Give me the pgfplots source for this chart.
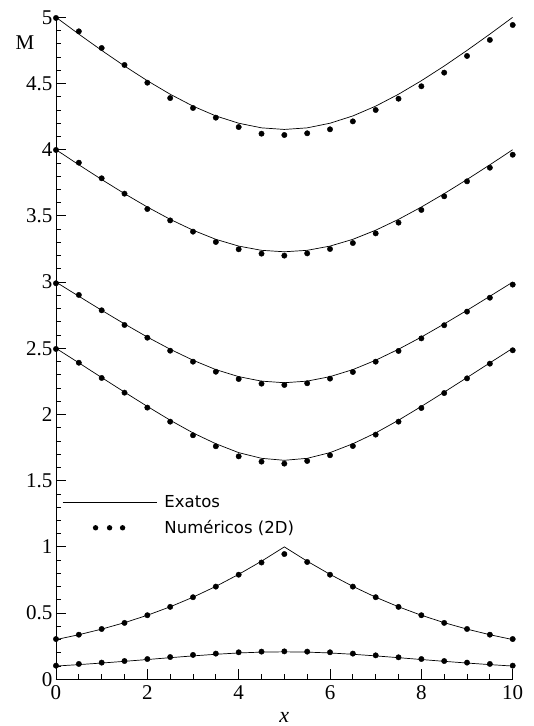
\documentclass[border=0pt]{standalone}
\usepackage{fontspec}
\setmainfont{Liberation Serif}
\newfontfamily\legfont{DejaVu Sans}
\usepackage{pgfplots}
\pgfplotsset{compat=1.18}
\begin{document}
\begin{tikzpicture}
\begin{axis}[
 at={(0pt,0pt)}, anchor=south west,
 scale only axis, width=456.7pt, height=662pt,
 xmin=0, xmax=10, ymin=0, ymax=5,
 axis x line*=bottom, axis y line*=left,
 axis line style={line width=0.8pt},
 xtick={0,2,4,6,8,10},
 ytick={0,0.5,1,1.5,2,2.5,3,3.5,4,4.5,5},
 minor x tick num=3, minor y tick num=4,
 tick align=inside,
 major tick length=10pt, minor tick length=5pt,
 every tick/.style={line width=0.8pt,black},
 tick label style={font=\fontsize{21}{22}\selectfont},
 yticklabel style={xshift=0pt},
 xticklabel style={yshift=-3pt},
 /pgf/number format/assume math mode=true,
 xlabel={x},
 xlabel style={at={(axis description cs:0.5,-0.057)}, anchor=center, font=\fontsize{22}{22}\selectfont\itshape},
 ylabel={M},
 ylabel style={rotate=-90, at={(axis description cs:-0.068,0.961)}, anchor=center, font=\fontsize{21}{21}\selectfont},
 legend style={at={(axis cs:0.131,1.237)}, anchor=west, draw=none, fill=none,
   font=\legfont\fontsize{16.5}{18}\selectfont, row sep=7pt, column sep=5.5pt, inner sep=0pt},
 legend cell align=left,
]
% Exact M0=0.1
\addplot[black, line width=0.7pt, no marks,
  legend image code/.code={\draw[line width=0.8pt] (0pt,0pt) -- (94pt,0pt);}]
 coordinates {(0,0.1) (0.5,0.1109) (1,0.1228) (1.5,0.1357) (2,0.1494) (2.5,0.1633) (3,0.1768) (3.5,0.1890) (4,0.1989) (4.5,0.2053) (5,0.2075) (5.5,0.2053) (6,0.1989) (6.5,0.1890) (7,0.1768) (7.5,0.1633) (8,0.1494) (8.5,0.1357) (9,0.1228) (9.5,0.1109) (10,0.1)};
\addlegendentry{Exatos}
% Numeric M0=0.1
\addplot[black, only marks, mark=*, mark size=2.7pt,
  legend image code/.code={\path[draw=none,fill=none] (0pt,-0.1pt) rectangle (94pt,0.1pt); \fill[black,draw=none] (33pt,0pt) circle (2.7pt); \fill[black,draw=none] (47pt,0pt) circle (2.7pt); \fill[black,draw=none] (60pt,0pt) circle (2.7pt);}]
 coordinates {(0,0.103) (0.5,0.116) (1,0.126) (1.5,0.138) (2,0.153) (2.5,0.168) (3,0.184) (3.5,0.194) (4,0.204) (4.5,0.209) (5,0.211) (5.5,0.209) (6,0.204) (6.5,0.194) (7,0.181) (7.5,0.166) (8,0.153) (8.5,0.138) (9,0.126) (9.5,0.116) (10,0.103)};
\addlegendentry{Numéricos (2D)}
% Exact M0=0.3
\addplot[black, line width=0.7pt, no marks, forget plot]
 coordinates {(0,0.3) (0.5,0.3367) (1,0.379) (1.5,0.4277) (2,0.4836) (2.5,0.5475) (3,0.62) (3.5,0.7017) (4,0.7926) (4.5,0.892) (5,1.0) (5.5,0.892) (6,0.7926) (6.5,0.7017) (7,0.62) (7.5,0.5475) (8,0.4836) (8.5,0.4277) (9,0.379) (9.5,0.3367) (10,0.3)};
\addplot[black, only marks, mark=*, mark size=2.7pt, forget plot]
 coordinates {(0,0.304) (0.5,0.337) (1,0.380) (1.5,0.426) (2,0.484) (2.5,0.547) (3,0.620) (3.5,0.700) (4,0.790) (4.5,0.882) (5,0.946) (5.5,0.886) (6,0.790) (6.5,0.700) (7,0.620) (7.5,0.547) (8,0.484) (8.5,0.426) (9,0.380) (9.5,0.337) (10,0.304)};
% Exact M0=2.5
\addplot[black, line width=0.7pt, no marks, forget plot]
 coordinates {(0,2.5) (0.5,2.39) (1,2.279) (1.5,2.169) (2,2.061) (2.5,1.957) (3,1.861) (3.5,1.779) (4,1.712) (4.5,1.669) (5,1.654) (5.5,1.669) (6,1.712) (6.5,1.779) (7,1.861) (7.5,1.957) (8,2.061) (8.5,2.169) (9,2.279) (9.5,2.39) (10,2.5)};
\addplot[black, only marks, mark=*, mark size=2.7pt, forget plot]
 coordinates {(0,2.495) (0.5,2.391) (1,2.276) (1.5,2.165) (2,2.052) (2.5,1.946) (3,1.843) (3.5,1.760) (4,1.684) (4.5,1.644) (5,1.629) (5.5,1.649) (6,1.692) (6.5,1.762) (7,1.848) (7.5,1.946) (8,2.049) (8.5,2.162) (9,2.273) (9.5,2.384) (10,2.485)};
% Exact M0=3
\addplot[black, line width=0.7pt, no marks, forget plot]
 coordinates {(0,3.0) (0.5,2.893) (1,2.787) (1.5,2.684) (2,2.585) (2.5,2.493) (3,2.410) (3.5,2.339) (4,2.286) (4.5,2.252) (5,2.240) (5.5,2.252) (6,2.286) (6.5,2.339) (7,2.410) (7.5,2.493) (8,2.585) (8.5,2.684) (9,2.787) (9.5,2.893) (10,3.0)};
\addplot[black, only marks, mark=*, mark size=2.7pt, forget plot]
 coordinates {(0,2.991) (0.5,2.903) (1,2.787) (1.5,2.676) (2,2.580) (2.5,2.482) (3,2.399) (3.5,2.323) (4,2.268) (4.5,2.233) (5,2.223) (5.5,2.236) (6,2.271) (6.5,2.321) (7,2.399) (7.5,2.480) (8,2.575) (8.5,2.674) (9,2.777) (9.5,2.882) (10,2.981)};
% Exact M0=4
\addplot[black, line width=0.7pt, no marks, forget plot]
 coordinates {(0,4.0) (0.5,3.886) (1,3.775) (1.5,3.668) (2,3.567) (2.5,3.474) (3,3.392) (3.5,3.323) (4,3.272) (4.5,3.240) (5,3.229) (5.5,3.240) (6,3.272) (6.5,3.323) (7,3.392) (7.5,3.474) (8,3.567) (8.5,3.668) (9,3.775) (9.5,3.886) (10,4.0)};
\addplot[black, only marks, mark=*, mark size=2.7pt, forget plot]
 coordinates {(0,3.998) (0.5,3.902) (1,3.784) (1.5,3.668) (2,3.552) (2.5,3.466) (3,3.381) (3.5,3.303) (4,3.248) (4.5,3.215) (5,3.200) (5.5,3.217) (6,3.250) (6.5,3.295) (7,3.368) (7.5,3.449) (8,3.545) (8.5,3.648) (9,3.761) (9.5,3.864) (10,3.962)};
% Exact M0=5
\addplot[black, line width=0.7pt, no marks, forget plot]
 coordinates {(0,5.0) (0.5,4.873) (1,4.750) (1.5,4.632) (2,4.521) (2.5,4.419) (3,4.329) (3.5,4.255) (4,4.200) (4.5,4.165) (5,4.153) (5.5,4.165) (6,4.200) (6.5,4.255) (7,4.329) (7.5,4.419) (8,4.521) (8.5,4.632) (9,4.750) (9.5,4.873) (10,5.0)};
\addplot[black, only marks, mark=*, mark size=2.7pt, forget plot]
 coordinates {(0,4.995) (0.5,4.894) (1,4.768) (1.5,4.640) (2,4.506) (2.5,4.390) (3,4.315) (3.5,4.242) (4,4.171) (4.5,4.121) (5,4.111) (5.5,4.124) (6,4.154) (6.5,4.214) (7,4.300) (7.5,4.385) (8,4.479) (8.5,4.582) (9,4.708) (9.5,4.829) (10,4.942)};
\end{axis}
\pgfresetboundingbox
\useasboundingbox (-56pt,-46.7pt) rectangle (478pt,679.3pt);
\end{tikzpicture}
\end{document}
